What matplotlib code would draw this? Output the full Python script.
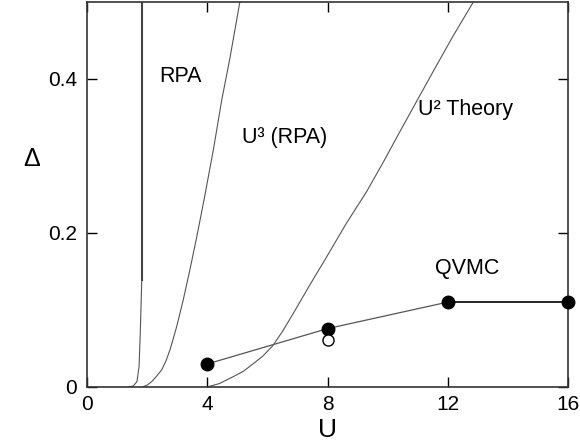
import matplotlib
matplotlib.use("Agg")
import matplotlib.pyplot as plt

plt.rcParams["font.family"] = ["Liberation Sans", "DejaVu Sans"]

# RPA curve: thin lower part, then near-vertical divergence at U ~ 1.82
rpa_u = [1.43, 1.54, 1.66, 1.73, 1.77, 1.80, 1.82]
rpa_d = [0.0, 0.001, 0.0065, 0.026, 0.069, 0.11, 0.139]
rpa_top_u = [1.82, 1.82]
rpa_top_d = [0.139, 0.5]

# U^3 (RPA) curve
u3_u = [1.87, 2.00, 2.15, 2.30, 2.48, 2.62, 2.76, 2.98, 3.20, 3.42, 3.65,
        3.90, 4.20, 4.48, 4.75, 5.08]
u3_d = [0.0, 0.002, 0.0065, 0.013, 0.0217, 0.033, 0.048, 0.078, 0.113, 0.152,
        0.195, 0.245, 0.308, 0.373, 0.427, 0.5]

# U^2 theory curve
u2_u = [4.03, 4.40, 4.86, 5.20, 5.53, 5.85, 6.17, 6.50, 6.86, 7.41, 7.97,
        8.60, 9.30, 9.85, 10.35, 10.90, 11.51, 12.17, 12.84]
u2_d = [0.0, 0.004, 0.013, 0.020, 0.030, 0.040, 0.053, 0.072, 0.0955, 0.1325,
        0.169, 0.211, 0.254, 0.292, 0.328, 0.367, 0.41, 0.456, 0.5]

# QVMC points
qvmc_u = [4, 8, 12, 16]
qvmc_d = [0.0295, 0.0755, 0.11, 0.11]
open_u = [8]
open_d = [0.0604]

fig = plt.figure(figsize=(5.8, 4.47), dpi=100)
ax = fig.add_axes([0.15, 0.135, 0.83, 0.8605])

curve = dict(color="#555555", lw=0.8)
ax.plot(rpa_u, rpa_d, **curve)
ax.plot(rpa_top_u, rpa_top_d, color="#444444", lw=1.5)
ax.plot(u3_u, u3_d, **curve)
ax.plot(u2_u, u2_d, **curve)

ax.plot(qvmc_u[:3], qvmc_d[:3], color="#555555", lw=0.9)
ax.plot(qvmc_u[2:], qvmc_d[2:], color="black", lw=1.2)
ax.plot(qvmc_u, qvmc_d, "o", color="black", ms=9, clip_on=False, zorder=5)
ax.plot(open_u, open_d, "o", mfc="white", mec="black", mew=1.0, ms=8, zorder=5)

ax.text(2.39, 0.3965, "RPA", fontsize=15.5, va="baseline")
ax.text(5.15, 0.317, "U³ (RPA)", fontsize=15.5, va="baseline")
ax.text(11.0, 0.3536, "U² Theory", fontsize=15.5, va="baseline")
ax.text(11.57, 0.1466, "QVMC", fontsize=15.5, va="baseline")

ax.set_xlim(0, 16)
ax.set_ylim(0, 0.5)
ax.set_xticks([0, 4, 8, 12, 16])
ax.set_yticks([0, 0.2, 0.4])
ax.set_yticklabels(["0", "0.2", "0.4"])
ax.tick_params(direction="in", length=7, width=1, top=True, right=True,
               labelsize=15, colors="black")
ax.tick_params(axis="y", pad=7)
ax.tick_params(axis="x", pad=6)
for s in ax.spines.values():
    s.set_linewidth(1.2)
    s.set_color("#333333")

ax.set_xlabel("U", fontsize=19, labelpad=3)
ax.set_ylabel("Δ", fontsize=18, rotation=0)
ax.yaxis.set_label_coords(-0.115, 0.56)

fig.savefig("out.png", dpi=100)
